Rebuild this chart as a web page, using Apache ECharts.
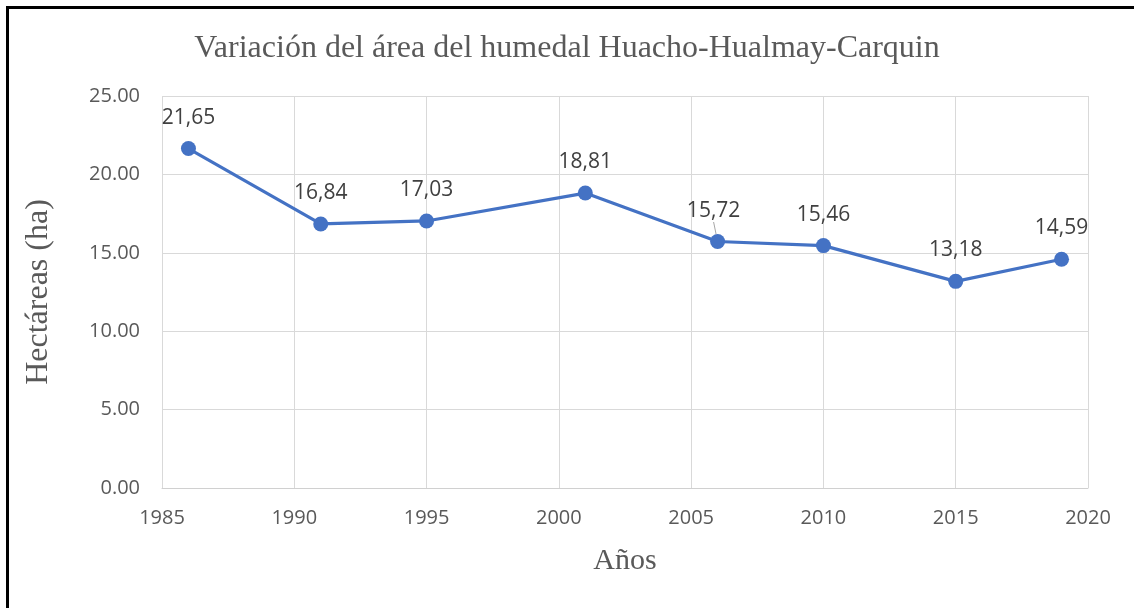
<!DOCTYPE html>
<html>
<head>
<meta charset="utf-8">
<script src="https://cdn.jsdelivr.net/npm/echarts@6/dist/echarts.min.js"></script>
<style>
  html, body { margin: 0; padding: 0; background: #fff; }
  #frame { position: absolute; left: 6px; top: 6px; width: 1140px; height: 620px;
           border-left: 3px solid #000; border-top: 3px solid #000; }
  #chart { position: absolute; left: 0; top: 0; width: 1134px; height: 608px; }
</style>
</head>
<body>
<div id="frame"></div>
<div id="chart"></div>
<script>
// años y superficie del humedal (ha)
const years = [1986, 1991, 1995, 2001, 2006, 2010, 2015, 2019];
const areas = [21.65, 16.84, 17.03, 18.81, 15.72, 15.46, 13.18, 14.59];
const yTicks = [0, 5, 10, 15, 20, 25];

const chart = echarts.init(document.getElementById('chart'));

// el punto 2006 lleva una línea guía hacia su etiqueta
const seriesData = years.map((y, i) => {
  const item = { value: [y, areas[i]] };
  if (i === 4) item.labelLine = { show: true };
  return item;
});

const option = {
  animation: false,
  title: {
    text: 'Variación del área del humedal Huacho-Hualmay-Carquin',
    left: 'center',
    top: 28,
    textStyle: {
      fontFamily: 'Liberation Serif',
      fontSize: 32,
      fontWeight: 'normal',
      color: '#595959',
    },
  },
  grid: {
    left: 162,
    right: 46,
    top: 96,
    bottom: 120,
  },
  xAxis: {
    type: 'value',
    min: 1985,
    max: 2020,
    interval: 5,
    name: 'Años',
    nameLocation: 'middle',
    nameGap: 58,
    nameTextStyle: {
      fontFamily: 'Liberation Serif',
      fontSize: 30,
      color: '#595959',
    },
    axisLine: { show: true, lineStyle: { color: '#d0d0d0', width: 1 } },
    axisTick: { show: false },
    splitLine: { show: true, lineStyle: { color: '#d9d9d9', width: 1 } },
    axisLabel: {
      fontFamily: 'Open Sans',
      fontSize: 20,
      color: '#595959',
      margin: 20,
      formatter: v => String(v),
    },
  },
  yAxis: {
    type: 'value',
    min: yTicks[0],
    max: yTicks[yTicks.length - 1],
    interval: 5,
    name: 'Hectáreas (ha)',
    nameLocation: 'middle',
    nameGap: 107,
    nameTextStyle: {
      fontFamily: 'Liberation Serif',
      fontSize: 32,
      color: '#595959',
    },
    axisLine: { show: false },
    axisTick: { show: false },
    splitLine: { show: true, lineStyle: { color: '#d9d9d9', width: 1 } },
    axisLabel: {
      fontFamily: 'Open Sans',
      fontSize: 20,
      color: '#595959',
      margin: 22,
      formatter: v => v.toFixed(2),
    },
  },
  series: [
    {
      type: 'line',
      data: seriesData,
      symbol: 'circle',
      symbolSize: 15,
      lineStyle: { color: '#4472C4', width: 3.2 },
      itemStyle: { color: '#4472C4' },
      label: {
        show: true,
        position: 'top',
        distance: 13,
        fontFamily: 'Open Sans',
        fontSize: 21,
        color: '#404040',
        formatter: p => p.value[1].toFixed(2).replace('.', ','),
      },
      labelLine: { show: false, lineStyle: { color: '#a6a6a6', width: 1 } },
      labelLayout: p => (p.dataIndex === 4 ? { dx: -4, dy: 1 } : {}),
    },
  ],
};

chart.setOption(option);
</script>
</body>
</html>
